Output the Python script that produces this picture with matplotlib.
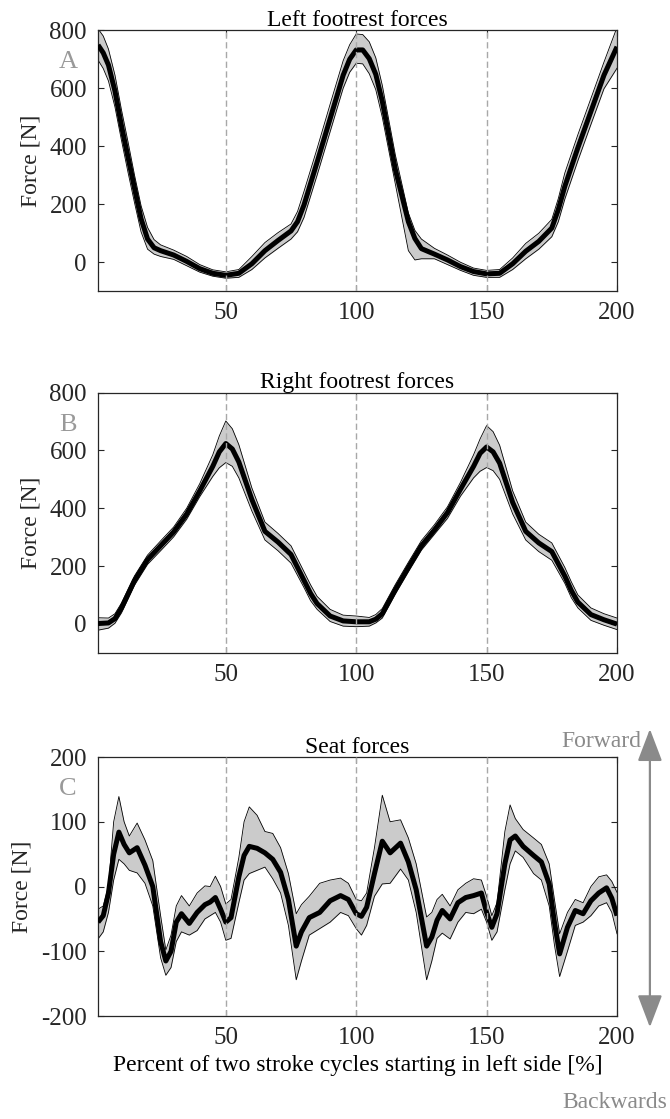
import numpy as np
import matplotlib
matplotlib.use("Agg")
import matplotlib.pyplot as plt
from matplotlib.patches import FancyArrowPatch

plt.rcParams['font.family'] = ['Liberation Serif', 'DejaVu Serif']
plt.rcParams['axes.unicode_minus'] = False

# ---- data ----
left_x = [1, 3, 5, 7.5, 10, 12.5, 15, 17.5, 20, 22.5, 25, 30, 35, 40, 45, 50, 55, 60, 65, 70,
          75, 77.5, 80, 85, 90, 95, 97.5, 100, 102.5, 105, 107.5, 110, 115, 120, 122.5, 125,
          130, 135, 140, 145, 150, 155, 160, 165, 170, 175, 177.5, 180, 185, 190, 195, 200]
left_mean = [749, 722, 680, 590, 470, 362, 255, 150, 80, 50, 40, 25, 3, -22, -38, -45, -38, -5,
             40, 75, 108, 140, 198, 345, 495, 645, 700, 732, 732, 702, 648, 555, 320, 140, 82,
             47, 28, 8, -15, -32, -40, -38, -5, 38, 72, 118, 182, 262, 395, 520, 645, 743]
left_upper = [805, 780, 735, 645, 525, 415, 300, 195, 120, 78, 60, 42, 20, -8, -26, -33, -25,
               20, 68, 102, 132, 175, 245, 392, 545, 695, 750, 787, 785, 760, 705, 610, 370,
               170, 110, 80, 48, 25, 0, -20, -28, -25, 15, 65, 100, 148, 220, 308, 440, 565,
               690, 810]
left_lower = [697, 668, 625, 535, 420, 310, 205, 105, 45, 28, 20, 10, -12, -34, -48, -55, -52,
              -25, 15, 48, 80, 105, 155, 300, 450, 600, 655, 686, 684, 650, 595, 500, 270, 40,
              8, 12, 12, -8, -28, -45, -52, -52, -25, 12, 45, 88, 140, 218, 350, 475, 598, 669]

right_x = [1, 5, 7.5, 10, 15, 20, 25, 30, 35, 40, 45, 47.5, 50, 52.5, 55, 60, 65, 70, 75, 80,
           82.5, 85, 90, 95, 100, 105, 107.5, 110, 115, 120, 125, 130, 135, 140, 145, 147.5,
           150, 152.5, 155, 160, 165, 170, 175, 180, 182.5, 185, 190, 195, 200]
right_mean = [1, 3, 18, 55, 150, 222, 270, 318, 380, 460, 545, 595, 624, 605, 560, 430, 320,
              283, 240, 150, 105, 70, 27, 10, 7, 7, 16, 35, 118, 195, 270, 325, 385, 466, 545,
              590, 612, 595, 556, 420, 320, 280, 250, 165, 115, 75, 32, 14, -1]
right_upper = [21, 20, 35, 72, 166, 238, 287, 335, 400, 485, 585, 650, 702, 675, 620, 470, 352,
               313, 270, 180, 135, 95, 50, 30, 27, 22, 32, 53, 136, 213, 288, 343, 405, 490,
               585, 640, 686, 665, 618, 460, 352, 310, 280, 195, 145, 100, 55, 35, 20]
right_lower = [-22, -15, 2, 38, 134, 206, 253, 301, 362, 440, 510, 540, 558, 545, 505, 390, 290,
               253, 210, 125, 80, 50, 8, -8, -10, -8, 3, 20, 103, 180, 255, 310, 365, 442, 505,
               528, 541, 530, 500, 380, 290, 250, 220, 140, 90, 55, 12, -5, -20]

seat_x = [1, 3, 5, 7, 9, 11, 13, 16, 19, 22, 25, 27, 29, 31, 33, 36, 39, 42, 44, 46, 48, 50,
          52, 55, 57, 59, 62, 65, 68, 71, 74, 77, 79, 82, 86, 90, 94, 97, 100, 102, 104, 107,
          110, 113, 117, 120, 123, 127, 129, 131, 133, 136, 139, 142, 145, 148, 150, 152, 154,
          157, 159, 161, 164, 168, 171, 174, 176, 178, 181, 184, 187, 190, 193, 196, 198, 200]
seat_mean = [-55, -45, -10, 50, 84, 65, 52, 60, 33, 0, -85, -115, -100, -55, -42, -57, -40,
             -28, -24, -17, -35, -55, -48, 15, 48, 62, 59, 52, 42, 22, -20, -92, -70, -48,
             -40, -22, -14, -20, -42, -46, -32, 20, 70, 52, 67, 38, -5, -92, -78, -52, -37,
             -50, -25, -17, -14, -10, -40, -63, -42, 35, 72, 78, 62, 48, 38, 4, -55, -104,
             -63, -37, -42, -22, -10, -2, -18, -45]
seat_upper = [-35, -30, 0, 100, 139, 100, 78, 98, 72, 40, -45, -98, -75, -30, -14, -30, -10,
              1, 0, 16, 0, -27, -20, 45, 100, 123, 110, 85, 82, 60, 20, -42, -28, -15, 5, 10,
              13, 5, -20, -22, -10, 60, 141, 100, 103, 75, 35, -47, -40, -20, -12, -30, -5, 5,
              12, 10, -15, -45, -25, 85, 126, 105, 88, 75, 65, 35, -20, -73, -40, -20, -25, 0,
              15, 18, 8, -9]
seat_lower = [-81, -70, -40, 10, 42, 35, 25, 21, 5, -30, -110, -137, -125, -85, -70, -75, -68,
              -50, -45, -40, -55, -83, -80, -25, 10, 20, 25, 30, 12, -10, -60, -144, -115, -75,
              -65, -55, -40, -45, -65, -75, -60, -15, 4, 5, 27, 10, -40, -144, -115, -80, -72,
              -81, -55, -40, -42, -35, -55, -83, -70, -5, 35, 55, 45, 20, 10, -30, -90, -139,
              -100, -60, -55, -45, -30, -25, -40, -73]

titles = ['Left footrest forces', 'Right footrest forces', 'Seat forces']
letters = ['A', 'B', 'C']
cycle_marks = [50, 100, 150]
x_ticks = [50, 100, 150, 200]

panels = [
    (left_x, left_mean, left_upper, left_lower, (-100, 800), [0, 200, 400, 600, 800]),
    (right_x, right_mean, right_upper, right_lower, (-100, 800), [0, 200, 400, 600, 800]),
    (seat_x, seat_mean, seat_upper, seat_lower, (-200, 200), [-200, -100, 0, 100, 200]),
]

fig = plt.figure(figsize=(6.7, 11.19), dpi=100)
axes_rects = [[0.1463, 0.7397, 0.7746, 0.2333],
              [0.1463, 0.4167, 0.7746, 0.2324],
              [0.1463, 0.0920, 0.7746, 0.2315]]

ink = '#262626'
for i, (xs, mean, upper, lower, ylim, yticks) in enumerate(panels):
    ax = fig.add_axes(axes_rects[i])
    ax.fill_between(xs, lower, upper, color='#cbcbcb', lw=0, zorder=1)
    ax.plot(xs, upper, color='k', lw=0.6, zorder=2)
    ax.plot(xs, lower, color='k', lw=0.6, zorder=2)
    ax.plot(xs, mean, color='k', lw=3.6, solid_capstyle='butt',
            solid_joinstyle='round', zorder=3)
    for xm in cycle_marks:
        ax.axvline(xm, color='#a8a8a8', lw=1.0, dashes=(4.5, 2.5), zorder=4)

    ax.set_xlim(1, 200)
    ax.set_ylim(*ylim)
    ax.set_xticks(x_ticks)
    ax.set_yticks(yticks)
    ax.tick_params(direction='in', length=4, width=0.8, colors=ink, labelsize=18,
                   top=True, right=True, pad=8)
    for sp in ax.spines.values():
        sp.set_color(ink)
        sp.set_linewidth(0.9)
    ax.set_title(titles[i], fontsize=17, color='k', pad=3)
    ax.set_ylabel('Force [N]', fontsize=17, color=ink, labelpad=6)
    ax.text(-0.058, 0.877, letters[i], transform=ax.transAxes, fontsize=19,
            color='#999999', ha='center', va='center')
    if i == 2:
        ax.set_xlabel('Percent of two stroke cycles starting in left side [%]',
                      fontsize=17, color='k', labelpad=4)

arrow = FancyArrowPatch((0.970, 0.0795), (0.970, 0.351), transform=fig.transFigure,
                        arrowstyle='<|-|>,head_length=1.0,head_width=0.38',
                        mutation_scale=20, color='#8a8a8a', lw=1.6)
fig.patches.append(arrow)
fig.text(0.957, 0.3324, 'Forward', fontsize=17, color='#8a8a8a', ha='right', va='baseline')
fig.text(0.996, 0.0098, 'Backwards', fontsize=17, color='#8a8a8a', ha='right', va='baseline')

fig.savefig('out.png', dpi=100)
